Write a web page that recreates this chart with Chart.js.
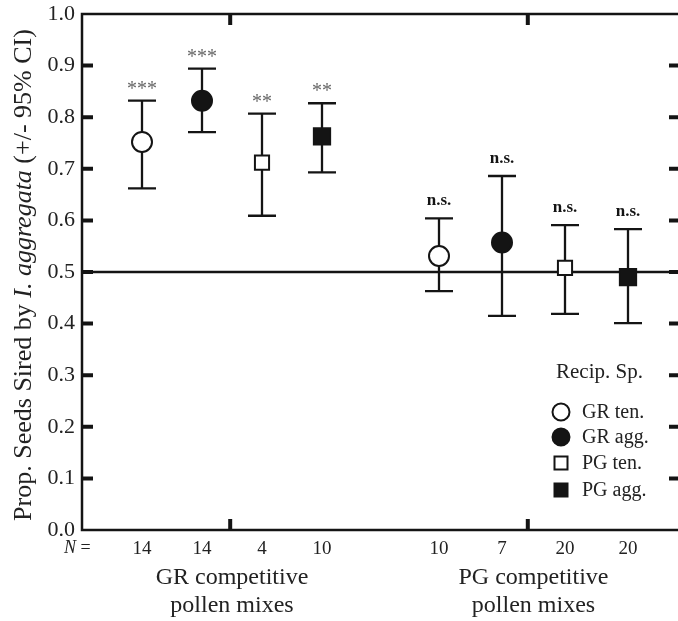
<!DOCTYPE html>
<html>
<head>
<meta charset="utf-8">
<script src="https://cdn.jsdelivr.net/npm/chart.js@4.4.0/dist/chart.umd.min.js"></script>
<style>
  html, body { margin: 0; padding: 0; background: #fff; overflow: hidden; }
</style>
</head>
<body>
<canvas id="chart" width="700" height="621"></canvas>
<script>
// recipient species (series) and the two kinds of pollen mix (groups)
const species = ['GR ten.', 'GR agg.', 'PG ten.', 'PG agg.'];
const mixes = [['GR competitive', 'pollen mixes'], ['PG competitive', 'pollen mixes']];

// proportion of seeds sired by I. aggregata, one value per recipient species
const meanGR = [0.752, 0.832, 0.712, 0.763];
const lowGR  = [0.662, 0.771, 0.609, 0.693];
const highGR = [0.832, 0.894, 0.807, 0.827];
const meanPG = [0.531, 0.557, 0.508, 0.490];
const lowPG  = [0.463, 0.415, 0.419, 0.401];
const highPG = [0.604, 0.686, 0.591, 0.583];

const nGR = [14, 14, 4, 10];
const nPG = [10, 7, 20, 20];
const sigGR = ['***', '***', '**', '**'];
const sigPG = ['n.s.', 'n.s.', 'n.s.', 'n.s.'];

const yTicks = [0.0, 0.1, 0.2, 0.3, 0.4, 0.5, 0.6, 0.7, 0.8, 0.9, 1.0];
const nullValue = 0.5;

const INK = '#141414';
const SERIF = '"Liberation Serif", "Times New Roman", serif';

// group g, species i -> slot on the x scale (the PG group is spread a little wider)
const slot = (g, i) => 1 + g * 4.95 + i * (1 + g * 0.05);
const groupTicks = [2.47, 7.43];

const looks = [
  { pointStyle: 'circle', bg: '#fff', r: 10 },
  { pointStyle: 'circle', bg: INK, r: 10 },
  { pointStyle: 'rect', bg: '#fff', r: 10 },
  { pointStyle: 'rect', bg: INK, r: 11.5 },
];

const datasets = species.map((s, i) => ({
  label: s,
  data: [{ x: slot(0, i), y: meanGR[i] }, { x: slot(1, i), y: meanPG[i] }],
  lo: [lowGR[i], lowPG[i]],
  hi: [highGR[i], highPG[i]],
  sig: [sigGR[i], sigPG[i]],
  pointStyle: looks[i].pointStyle,
  pointRadius: looks[i].r,
  pointBackgroundColor: looks[i].bg,
  pointBorderColor: INK,
  pointBorderWidth: 2,
  showLine: false,
}));

const nTicks = [];
species.forEach((s, i) => nTicks.push({ value: slot(0, i), label: String(nGR[i]) }));
species.forEach((s, i) => nTicks.push({ value: slot(1, i), label: String(nPG[i]) }));

const extras = {
  id: 'extras',
  beforeDatasetsDraw(chart) {
    const { ctx, chartArea: a, scales: { y } } = chart;
    ctx.save();
    ctx.strokeStyle = INK;
    // null line at 0.5
    ctx.lineWidth = 2.5;
    const y0 = y.getPixelForValue(nullValue);
    ctx.beginPath(); ctx.moveTo(a.left, y0); ctx.lineTo(a.right, y0); ctx.stroke();
    // 95% CI bars
    ctx.lineWidth = 2.3;
    chart.data.datasets.forEach((ds, di) => {
      chart.getDatasetMeta(di).data.forEach((pt, j) => {
        const yl = y.getPixelForValue(ds.lo[j]);
        const yh = y.getPixelForValue(ds.hi[j]);
        ctx.beginPath();
        ctx.moveTo(pt.x, yl); ctx.lineTo(pt.x, yh);
        ctx.moveTo(pt.x - 14, yl); ctx.lineTo(pt.x + 14, yl);
        ctx.moveTo(pt.x - 14, yh); ctx.lineTo(pt.x + 14, yh);
        ctx.stroke();
      });
    });
    ctx.restore();
  },
  afterDraw(chart) {
    const { ctx, chartArea: a, scales: { x, y } } = chart;
    ctx.save();
    ctx.strokeStyle = INK;
    ctx.fillStyle = INK;

    // frame
    ctx.lineWidth = 2.5;
    ctx.beginPath();
    ctx.moveTo(a.right, a.top); ctx.lineTo(a.left, a.top);
    ctx.lineTo(a.left, a.bottom); ctx.lineTo(a.right, a.bottom);
    ctx.lineTo(a.right, a.top);
    ctx.stroke();

    // inward tick marks
    ctx.lineWidth = 4;
    ctx.beginPath();
    yTicks.slice(1, -1).forEach(v => {
      const py = y.getPixelForValue(v);
      ctx.moveTo(a.left, py); ctx.lineTo(a.left + 11, py);
      ctx.moveTo(a.right, py); ctx.lineTo(a.right - 13, py);
    });
    groupTicks.forEach(v => {
      const px = x.getPixelForValue(v);
      ctx.moveTo(px, a.top); ctx.lineTo(px, a.top + 11);
      ctx.moveTo(px, a.bottom); ctx.lineTo(px, a.bottom - 11);
    });
    ctx.stroke();

    // significance marks
    ctx.textAlign = 'center';
    ctx.textBaseline = 'alphabetic';
    chart.data.datasets.forEach((ds, di) => {
      chart.getDatasetMeta(di).data.forEach((pt, j) => {
        const yh = y.getPixelForValue(ds.hi[j]);
        if (ds.sig[j] === 'n.s.') {
          ctx.fillStyle = INK;
          ctx.font = 'bold 17px ' + SERIF;
          ctx.fillText(ds.sig[j], pt.x, yh - 13);
        } else {
          ctx.fillStyle = '#666';
          ctx.font = '20px ' + SERIF;
          ctx.fillText(ds.sig[j], pt.x, yh - 6);
        }
      });
    });

    // group labels
    ctx.fillStyle = '#222';
    ctx.font = '24px ' + SERIF;
    ctx.textBaseline = 'middle';
    mixes.forEach((m, g) => {
      const px = x.getPixelForValue(slot(g, 1.5));
      ctx.fillText(m[0], px, 578);
      ctx.fillText(m[1], px, 606);
    });

    // N =
    ctx.textAlign = 'left';
    ctx.font = 'italic 18px ' + SERIF;
    ctx.fillText('N', 64, 548);
    const nw = ctx.measureText('N').width;
    ctx.font = '18px ' + SERIF;
    ctx.fillText(' =', 64 + nw, 548);

    // y axis title with italic species name
    const parts = [['Prop. Seeds Sired by ', ''], ['I. aggregata', 'italic '], [' (+/- 95% CI)', '']];
    ctx.translate(0, 275);
    ctx.rotate(-Math.PI / 2);
    ctx.textBaseline = 'alphabetic';
    let total = 0;
    parts.forEach(p => { ctx.font = p[1] + '26px ' + SERIF; total += ctx.measureText(p[0]).width; });
    let tx = -total / 2;
    parts.forEach(p => {
      ctx.font = p[1] + '26px ' + SERIF;
      ctx.fillText(p[0], tx, 31);
      tx += ctx.measureText(p[0]).width;
    });
    ctx.setTransform(1, 0, 0, 1, 0, 0);

    // legend
    ctx.fillStyle = '#222';
    ctx.textAlign = 'left';
    ctx.textBaseline = 'middle';
    ctx.font = '21px ' + SERIF;
    ctx.fillText('Recip. Sp.', 556, 372);
    ctx.font = '20px ' + SERIF;
    const rows = [412, 437, 463, 490];
    chart.data.datasets.forEach((ds, i) => {
      const cy = rows[i], cx = 561;
      ctx.lineWidth = 2;
      ctx.strokeStyle = INK;
      ctx.fillStyle = ds.pointBackgroundColor;
      ctx.beginPath();
      if (ds.pointStyle === 'circle') ctx.arc(cx, cy, 8.5, 0, Math.PI * 2);
      else ctx.rect(cx - 6.5, cy - 6.5, 13, 13);
      ctx.fill(); ctx.stroke();
      ctx.fillStyle = '#222';
      ctx.fillText(ds.label, 582, cy + 1);
    });
    ctx.restore();
  }
};

new Chart(document.getElementById('chart'), {
  type: 'scatter',
  data: { datasets },
  options: {
    responsive: false,
    animation: false,
    layout: { padding: { top: 14, right: 18, left: 0, bottom: 0 } },
    plugins: { legend: { display: false }, tooltip: { enabled: false } },
    scales: {
      x: {
        type: 'linear', min: 0, max: 10,
        grid: { display: false, drawTicks: false },
        border: { display: false },
        afterBuildTicks: s => { s.ticks = nTicks.map(t => ({ value: t.value })); },
        afterFit: s => { s.height = 91; s.paddingLeft = 0; s.paddingRight = 0; },
        ticks: {
          padding: 8,
          color: '#222',
          font: { family: SERIF, size: 19 },
          maxRotation: 0,
          autoSkip: false,
          callback: v => (nTicks.find(t => t.value === v) || {}).label,
        },
      },
      y: {
        min: 0, max: 1,
        grid: { display: false, drawTicks: false },
        border: { display: false },
        afterBuildTicks: s => { s.ticks = yTicks.map(v => ({ value: v })); },
        afterFit: s => { s.width = 82; s.paddingTop = 0; s.paddingBottom = 0; },
        ticks: {
          padding: 7,
          color: '#222',
          font: { family: SERIF, size: 22 },
          callback: v => v.toFixed(1),
        },
      },
    },
  },
  plugins: [extras],
});
</script>
</body>
</html>
